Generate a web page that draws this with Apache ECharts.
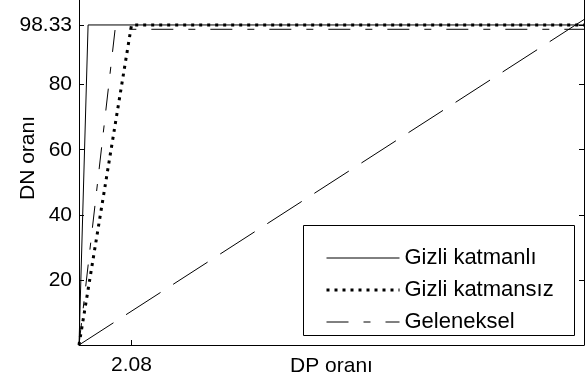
<!DOCTYPE html>
<html>
<head>
<meta charset="utf-8">
<script src="https://cdn.jsdelivr.net/npm/echarts@6/dist/echarts.min.js"></script>
<style>
  html, body { margin: 0; padding: 0; background: #fff; }
  #chart { width: 586px; height: 383px; }
</style>
</head>
<body>
<div id="chart"></div>
<script>
// Curve names shown in the legend
const seriesNames = ['Gizli katmanlı', 'Gizli katmansız', 'Geleneksel'];

// DP oranı (x) and DN oranı (y) for each curve
const xKatmanli = [0, 0.36, 20];
const yKatmanli = [0, 98.33, 98.33];
const xKatmansiz = [0, 2.08, 20];
const yKatmansiz = [0, 98.33, 98.33];
const xGeleneksel = [0, 1.43, 20];
const yGeleneksel = [0, 97, 97];
// reference diagonal
const xDiagonal = [0, 20];
const yDiagonal = [0, 100];

// tick positions
const xTicks = [2.08];
const yTicks = [20, 40, 60, 80, 98.33];

const FONT = 'Liberation Sans, Arial, sans-serif';
const pairs = (xs, ys) => xs.map((x, i) => [x, ys[i]]);

const styleSolid = { color: '#000', width: 1, type: 'solid' };
const styleDotted = { color: '#000', width: 3, type: [3, 5], cap: 'butt' };
const styleDashDot = { color: '#000', width: 1, type: [22, 15, 7, 15] };
const styleDashed = { color: '#000', width: 1, type: [41, 15] };

const chart = echarts.init(document.getElementById('chart'), null, { renderer: 'canvas' });

const baseLine = { show: true, lineStyle: { color: '#000', width: 1 } };

chart.setOption({
  animation: false,
  backgroundColor: '#fff',
  grid: { left: 79, top: 0, width: 505, height: 345, containLabel: false, outerBoundsMode: 'none' },
  xAxis: [{
    type: 'value', min: 0, max: 20, position: 'bottom',
    name: 'DP oranı', nameLocation: 'middle', nameGap: 11, nameMoveOverlap: false,
    nameTextStyle: { fontFamily: FONT, fontSize: 21, color: '#000', verticalAlign: 'top' },
    axisLine: baseLine,
    axisTick: { show: true, inside: true, length: 5, customValues: xTicks, lineStyle: { color: '#000' } },
    axisLabel: { show: true, customValues: xTicks, margin: 10, fontFamily: FONT, fontSize: 21, color: '#000',
      formatter: v => v.toFixed(2) },
    splitLine: { show: false }
  }],
  yAxis: [{
    type: 'value', min: 0, max: 106, position: 'left',
    axisLine: baseLine,
    axisTick: { show: true, inside: true, length: 5, customValues: yTicks, lineStyle: { color: '#000' } },
    axisLabel: { show: true, customValues: yTicks, margin: 7, fontFamily: FONT, fontSize: 21, color: '#000',
      formatter: v => (Number.isInteger(v) ? String(v) : v.toFixed(2)) },
    splitLine: { show: false }
  }, {
    type: 'value', min: 0, max: 106, position: 'right',
    axisLine: baseLine,
    axisTick: { show: true, inside: true, length: 5, customValues: yTicks, lineStyle: { color: '#000' } },
    axisLabel: { show: false },
    splitLine: { show: false }
  }],
  legend: {
    data: [
      { name: seriesNames[0], lineStyle: styleSolid },
      { name: seriesNames[1], lineStyle: styleDotted },
      { name: seriesNames[2], lineStyle: styleDashDot }
    ],
    orient: 'vertical',
    left: 320, top: 242,
    itemWidth: 73, itemHeight: 20, itemGap: 10,
    z: 20,
    itemStyle: { opacity: 0 },
    textStyle: { fontFamily: FONT, fontSize: 22, color: '#000', lineHeight: 20, padding: [0, 0, 0, 0] },
    selectedMode: false
  },
  graphic: [{
    type: 'rect', z: 10,
    shape: { x: 303.5, y: 225.5, width: 271, height: 110 },
    style: { fill: '#fff', stroke: '#000', lineWidth: 1 }
  }, {
    type: 'text', z: 10,
    x: 28, y: 158, rotation: Math.PI / 2,
    style: { text: 'DN oranı', fontFamily: FONT, fontSize: 21, fill: '#000', align: 'center', verticalAlign: 'middle' }
  }],
  series: [{
    name: seriesNames[0], type: 'line', symbol: 'none',
    data: pairs(xKatmanli, yKatmanli),
    lineStyle: styleSolid, itemStyle: { color: '#000' }
  }, {
    name: seriesNames[2], type: 'line', symbol: 'none',
    data: pairs(xGeleneksel, yGeleneksel),
    lineStyle: styleDashDot, itemStyle: { color: '#000' }
  }, {
    name: 'diagonal', type: 'line', symbol: 'none',
    data: pairs(xDiagonal, yDiagonal),
    lineStyle: styleDashed, itemStyle: { color: '#000' }
  }, {
    name: seriesNames[1], type: 'line', symbol: 'none',
    data: pairs(xKatmansiz, yKatmansiz),
    lineStyle: styleDotted, itemStyle: { color: '#000' }
  }]
});
</script>
</body>
</html>
